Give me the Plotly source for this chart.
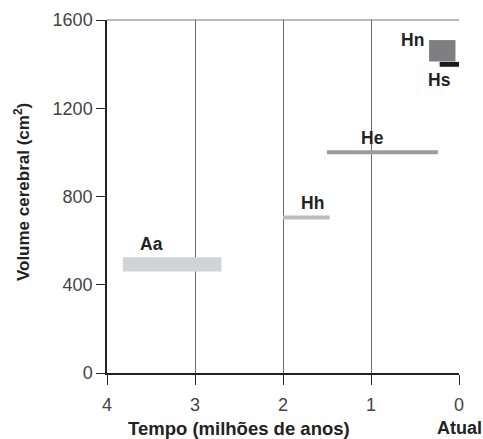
import plotly.graph_objects as go

# Data
species = ["Aa", "Hh", "He", "Hn", "Hs"]
t_start = [3.82, 2.0, 1.5, 0.34, 0.22]      # millions of years ago (older edge)
t_end = [2.70, 1.47, 0.24, 0.04, 0.0]       # younger edge
vol_low = [460, 696, 991, 1412, 1388]       # cm3
vol_high = [525, 714, 1010, 1509, 1410]
colors = ["#d2d3d5", "#bcbcbc", "#9b9b9b", "#7f7f81", "#1b1b1b"]
label_x = [3.49, 1.66, 0.98, 0.53, 0.22]
label_y = [583, 772, 1067, 1511, 1330]

x_ticks = [4, 3, 2, 1, 0]
y_ticks = [0, 400, 800, 1200, 1600]

font_fam = "Liberation Sans"

fig = go.Figure()
for i, s in enumerate(species):
    fig.add_trace(go.Scatter(
        x=[t_start[i], t_end[i], t_end[i], t_start[i], t_start[i]],
        y=[vol_low[i], vol_low[i], vol_high[i], vol_high[i], vol_low[i]],
        fill="toself", fillcolor=colors[i], mode="lines",
        line=dict(width=0, color=colors[i]), hoverinfo="skip",
        showlegend=False, name=s))
    fig.add_annotation(x=label_x[i], y=label_y[i], text="<b>" + s + "</b>", showarrow=False,
                       font=dict(family=font_fam, size=17.5, color="#222"),
                       xanchor="center", yanchor="middle")

fig.update_layout(
    width=483, height=439,
    margin=dict(l=107, r=24, t=20, b=66),
    plot_bgcolor="white", paper_bgcolor="white",
    font=dict(family=font_fam, color="#333"),
    xaxis=dict(range=[4, 0], tickvals=x_ticks, ticktext=[str(v) for v in x_ticks],
               showgrid=True, gridcolor="#6a6a6a", gridwidth=1,
               showline=True, linecolor="#222", linewidth=1.5,
               ticks="outside", ticklen=10, tickcolor="#222", tickwidth=1.2,
               ticklabelstandoff=5, automargin=False,
               tickfont=dict(size=18, color="#444", family=font_fam),
               zeroline=False, fixedrange=True),
    yaxis=dict(range=[0, 1600], tickvals=y_ticks,
               showgrid=False, showline=True, linecolor="#222", linewidth=1.5,
               ticks="outside", ticklen=9, tickcolor="#222", tickwidth=1.2,
               automargin=False,
               tickfont=dict(size=18, color="#444", family=font_fam),
               zeroline=False, fixedrange=True),
)
# top frame line
fig.add_shape(type="line", xref="paper", yref="paper", x0=0, x1=1, y0=1, y1=1,
              line=dict(color="#777", width=1))
# axis titles
fig.add_annotation(x=2.5, y=-0.156, xref="x", yref="paper", text="<b>Tempo (milhões de anos)</b>",
                   showarrow=False, font=dict(family=font_fam, size=18.5, color="#222"),
                   xanchor="center", yanchor="middle")
fig.add_annotation(x=0, y=-0.156, xref="x", yref="paper", text="<b>Atual</b>",
                   showarrow=False, font=dict(family=font_fam, size=18, color="#222"),
                   xanchor="center", yanchor="middle")
fig.add_annotation(x=-0.241, y=0.513, xref="paper", yref="paper",
                   text="<b>Volume cerebral (cm<sup>2</sup>)</b>", textangle=-90,
                   showarrow=False, font=dict(family=font_fam, size=17, color="#222"),
                   xanchor="center", yanchor="middle")

fig.write_html("out.html", config={"displayModeBar": False},
               post_script="document.body.style.margin='0';document.body.style.overflow='hidden';")
